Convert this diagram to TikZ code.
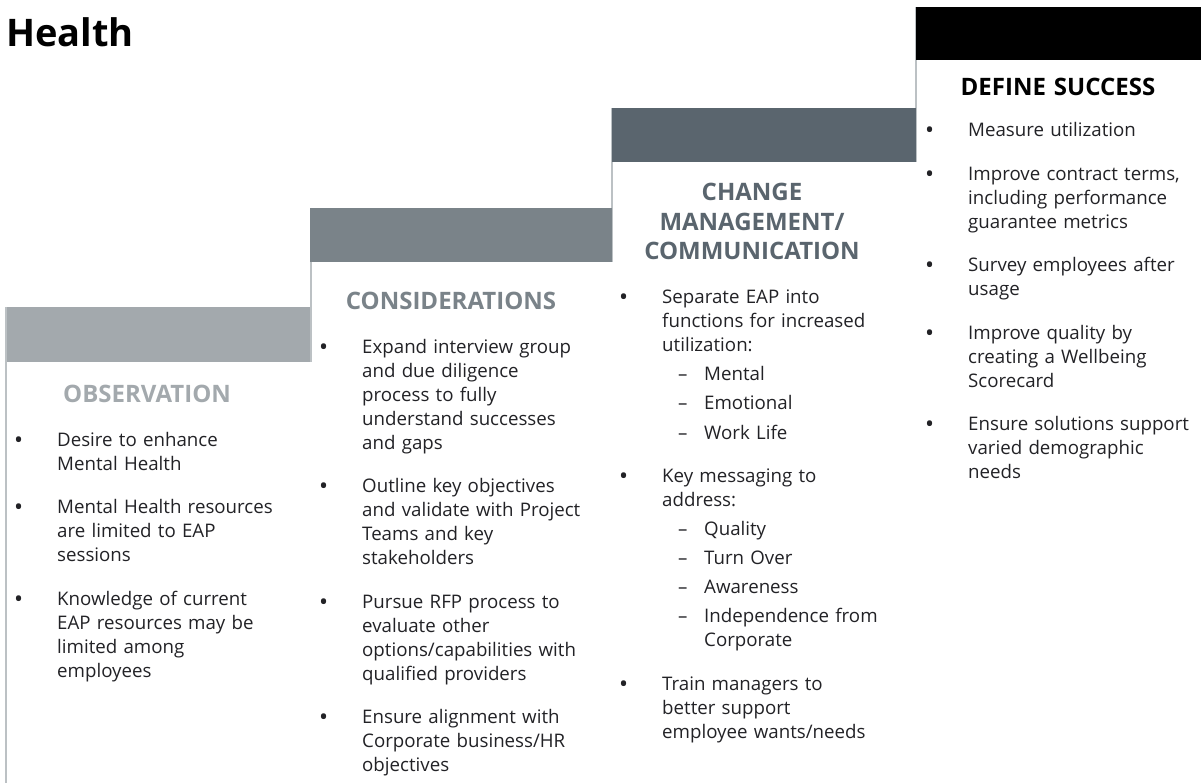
\documentclass[tikz,border=0pt]{standalone}
\usepackage{fontspec}
\setmainfont{Open Sans}
\usetikzlibrary{positioning}

\definecolor{barlight}{HTML}{A3A9AD}
\definecolor{barmid}{HTML}{7A8389}
\definecolor{bardark}{HTML}{5A656E}
\definecolor{riser}{HTML}{BCC1C4}
\definecolor{ink}{HTML}{222226}

\newcommand\bodyfont{\fontsize{18.7}{24}\selectfont}
\newcommand\headfont{\bfseries\fontsize{24}{29.5}\selectfont}

% bullet lists inside the step columns
\newcommand\stepdot{\llap{\makebox[42pt][l]{\bfseries\textbullet}}}
\newcommand\stepfirst{\leftskip=42pt\stepdot}
\newcommand\stepitem{\par\vspace{19.5pt}\leftskip=42pt\noindent\stepdot}
\newcommand\stepsub{\par\vspace{5pt}\leftskip=84pt\noindent\llap{\makebox[26pt][l]{--}}}
\newcommand\stepend{\par}

\tikzset{
	title/.style    = {anchor=base west, inner sep=0pt,
		font=\bfseries\fontsize{38}{44}\selectfont},
	stephead/.style = {text=#1, font=\headfont, text width=300pt,
		align=center, anchor=base, inner sep=0pt},
	steplist/.style = {text=ink, font=\bodyfont, text width=300pt,
		anchor=base west, inner sep=0pt},
	riserline/.style = {draw=riser, line width=2pt},
}

\begin{document}
\begin{tikzpicture}[x=1pt, y=-1pt]
\useasboundingbox (0,0) rectangle (1201,783);

\node [title] (health) at (6,47) {Health};

% risers of the staircase
\draw [riserline] (6,307) -- (6,783);
\draw [riserline] (311,208) -- (311,362);
\draw [riserline] (612,108) -- (612,262);
\draw [riserline] (916,7) -- (916,162);

% treads
\fill [barlight] (7,307) rectangle (310,362);
\fill [barmid] (310,208) rectangle (612,262);
\fill [bardark] (612,108) rectangle (916,162);
\fill [black] (916,7) rectangle (1201,60);

\node [stephead=barlight] (obsHead) at (147,402) {OBSERVATION};
\node [stephead=barmid] (consHead) at (451,309) {CONSIDERATIONS};
\node [stephead=bardark] (changeHead) at (752,201) {CHANGE\\MANAGEMENT/\\COMMUNICATION};
\node [stephead=black] (defHead) at (1058,96) {DEFINE SUCCESS};

\node [steplist] (obsList) at (15,446) {
	\stepfirst Desire to enhance\\Mental Health
	\stepitem Mental Health resources\\are limited to EAP\\sessions
	\stepitem Knowledge of current\\EAP resources may be\\limited among\\employees
	\stepend
};

\node [steplist] (consList) at (320,353) {
	\stepfirst Expand interview group\\and due diligence\\process to fully\\understand successes\\and gaps
	\stepitem Outline key objectives\\and validate with Project\\Teams and key\\stakeholders
	\stepitem Pursue RFP process to\\evaluate other\\options/capabilities with\\qualified providers
	\stepitem Ensure alignment with\\Corporate business/HR\\objectives
	\stepend
};

\node [steplist] (changeList) at (620,304) {
	\stepfirst Separate EAP into\\functions for increased\\utilization:
	\stepsub Mental
	\stepsub Emotional
	\stepsub Work Life
	\stepitem Key messaging to\\address:
	\stepsub Quality
	\stepsub Turn Over
	\stepsub Awareness
	\stepsub Independence from\\Corporate
	\stepitem Train managers to\\better support\\employee wants/needs
	\stepend
};

\node [steplist] (defList) at (926,137) {
	\stepfirst Measure utilization
	\stepitem Improve contract terms,\\including performance\\guarantee metrics
	\stepitem Survey employees after\\usage
	\stepitem Improve quality by\\creating a Wellbeing\\Scorecard
	\stepitem Ensure solutions support\\varied demographic\\needs
	\stepend
};
\end{tikzpicture}
\end{document}
